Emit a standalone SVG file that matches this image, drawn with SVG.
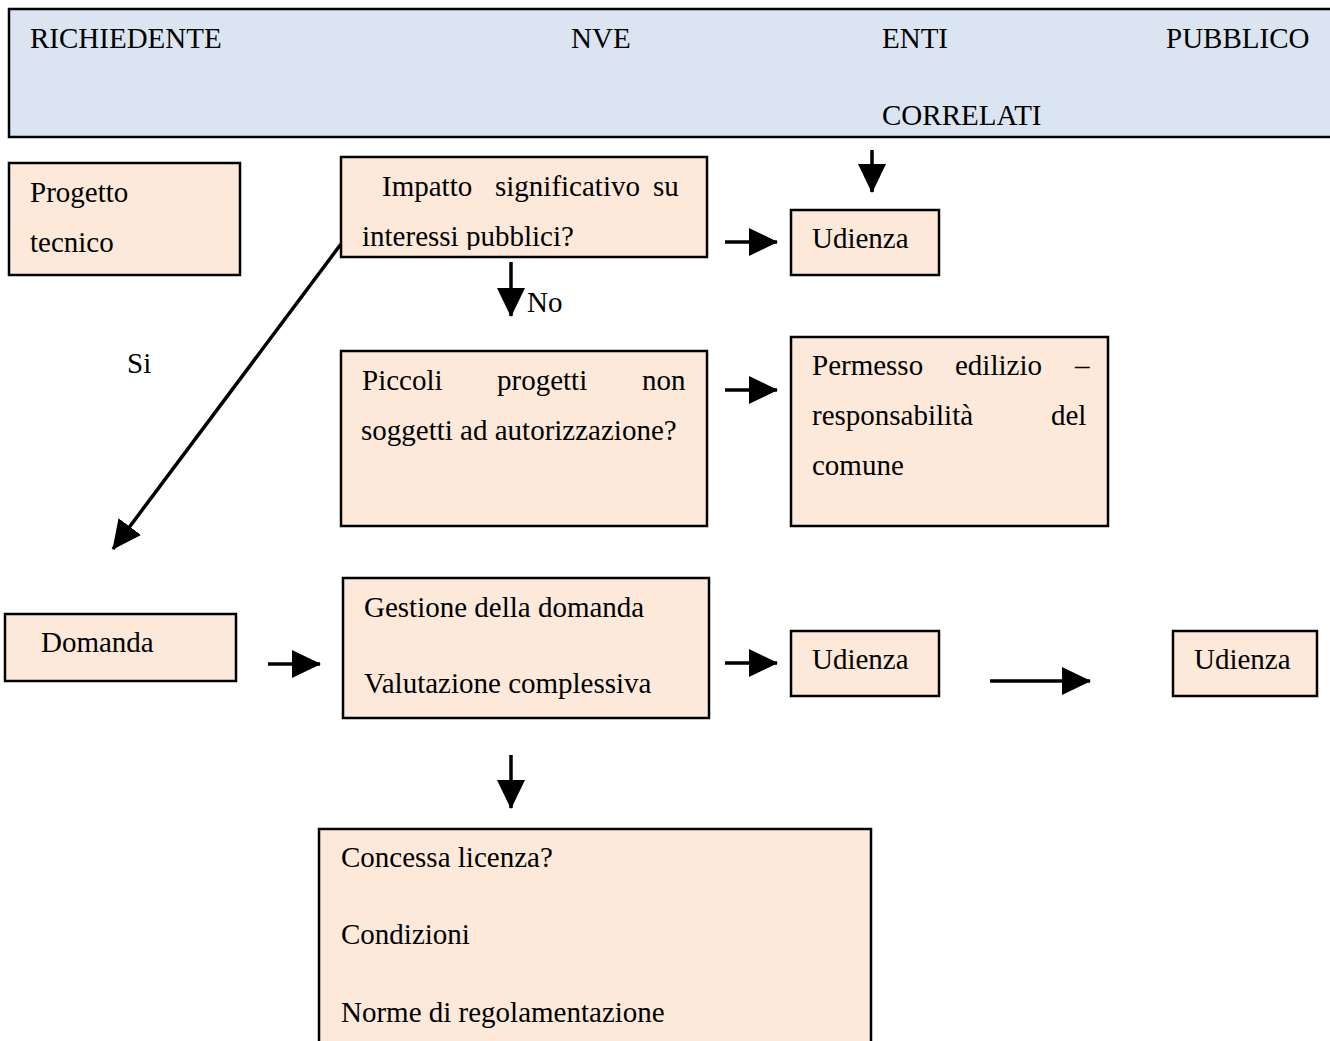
<svg xmlns="http://www.w3.org/2000/svg" width="1330" height="1041" viewBox="0 0 1330 1041">
  <style>
    text { font-family: "Liberation Serif", "Times New Roman", serif; font-size: 29px; fill: #000; }
    .box { fill: #fde9d9; stroke: #000; stroke-width: 2.5; }
    .head { fill: #dbe5f1; stroke: #000; stroke-width: 2.5; }
    .conn line { stroke: #000; stroke-width: 3.5; marker-end: url(#tip); }
  </style>
  <defs>
    <marker id="tip" markerUnits="userSpaceOnUse" markerWidth="30" markerHeight="30" refX="28" refY="14" orient="auto">
      <path d="M0,0 L29,14 L0,28 z" fill="#000"/>
    </marker>
    <clipPath id="clipImpatto">
      <rect x="341" y="157" width="366" height="93"/>
    </clipPath>
  </defs>

  <rect width="1330" height="1041" fill="#fff"/>

  <!-- column header band -->
  <g id="header">
    <rect class="head" x="9" y="9" width="1340" height="128"/>
    <text x="30" y="48">RICHIEDENTE</text>
    <text x="571" y="48">NVE</text>
    <text x="882" y="48">ENTI</text>
    <text x="1166" y="48">PUBBLICO</text>
    <text x="882" y="125">CORRELATI</text>
  </g>

  <g id="progetto">
    <rect class="box" x="9" y="163" width="231" height="112"/>
    <text x="30" y="202">Progetto</text>
    <text x="30" y="252">tecnico</text>
  </g>

  <g id="impatto">
    <rect class="box" x="341" y="157" width="366" height="100"/>
    <text x="382" y="196">Impatto</text>
    <text x="495" y="196">significativo</text>
    <text x="653" y="196">su</text>
    <text x="362" y="246" clip-path="url(#clipImpatto)">interessi pubblici?</text>
  </g>

  <g id="udienza1">
    <rect class="box" x="791" y="210" width="148" height="65"/>
    <text x="812" y="248">Udienza</text>
  </g>

  <g id="piccoli">
    <rect class="box" x="341" y="351" width="366" height="175"/>
    <text x="362" y="390">Piccoli</text>
    <text x="497" y="390">progetti</text>
    <text x="642" y="390">non</text>
    <text x="361" y="440">soggetti ad autorizzazione?</text>
  </g>

  <g id="permesso">
    <rect class="box" x="791" y="337" width="317" height="189"/>
    <text x="812" y="375">Permesso</text>
    <text x="955" y="375">edilizio</text>
    <text x="1075" y="375">–</text>
    <text x="812" y="425">responsabilità</text>
    <text x="1051" y="425">del</text>
    <text x="812" y="475">comune</text>
  </g>

  <g id="domanda">
    <rect class="box" x="5" y="614" width="231" height="67"/>
    <text x="41" y="652">Domanda</text>
  </g>

  <g id="gestione">
    <rect class="box" x="343" y="578" width="366" height="140"/>
    <text x="364" y="617">Gestione della domanda</text>
    <text x="364" y="693">Valutazione complessiva</text>
  </g>

  <g id="udienza2">
    <rect class="box" x="791" y="631" width="148" height="65"/>
    <text x="812" y="669">Udienza</text>
  </g>

  <g id="udienza3">
    <rect class="box" x="1173" y="631" width="144" height="65"/>
    <text x="1194" y="669">Udienza</text>
  </g>

  <g id="concessa">
    <rect class="box" x="319" y="829" width="552" height="240"/>
    <text x="341" y="867">Concessa licenza?</text>
    <text x="341" y="944">Condizioni</text>
    <text x="341" y="1022">Norme di regolamentazione</text>
  </g>

  <!-- branch labels -->
  <g id="labels">
    <text x="527" y="312">No</text>
    <text x="127" y="373">Si</text>
  </g>

  <g id="connectors" class="conn">
    <line x1="872" y1="150" x2="872" y2="192"/>
    <line x1="725" y1="242" x2="777" y2="242"/>
    <line x1="511" y1="262" x2="511" y2="316"/>
    <line x1="341" y1="244" x2="113" y2="549"/>
    <line x1="725" y1="390" x2="777" y2="390"/>
    <line x1="268" y1="664" x2="320" y2="664"/>
    <line x1="725" y1="663" x2="777" y2="663"/>
    <line x1="990" y1="681" x2="1090" y2="681"/>
    <line x1="511" y1="755" x2="511" y2="808"/>
  </g>
</svg>
